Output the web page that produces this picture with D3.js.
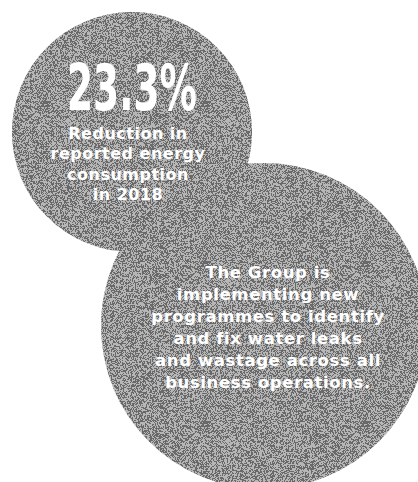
<!DOCTYPE html>
<html>
<head>
<meta charset="utf-8">
<script src="https://cdn.jsdelivr.net/npm/d3@7"></script>
<style>
  body { margin: 0; background: #fff; }
</style>
</head>
<body>
<div id="chart"></div>
<script>
// values
var statValue = 23.3;
var statLines = ["Reduction in", "reported energy", "consumption", "in 2018"];
var noteLines = ["The Group is", "implementing new", "programmes to identify",
                 "and fix water leaks", "and wastage across all", "business operations."];

var width = 418, height = 482;

var svg = d3.select("#chart").append("svg")
  .attr("width", width)
  .attr("height", height);

// circles: big one, small one
var circles = [
  {cx: 264, cy: 326, r: 163},
  {cx: 132, cy: 132, r: 120}
];

var defs = svg.append("defs");

// union of both circles, used to clip the grain
defs.append("clipPath")
  .attr("id", "blobs")
  .selectAll("circle")
  .data(circles)
  .enter()
  .append("circle")
  .attr("cx", d => d.cx)
  .attr("cy", d => d.cy)
  .attr("r", d => d.r);

// grainy halftone look
var grain = defs.append("filter")
  .attr("id", "grain")
  .attr("x", 0).attr("y", 0).attr("width", 1).attr("height", 1);
grain.append("feTurbulence")
  .attr("type", "fractalNoise")
  .attr("baseFrequency", 1.6)
  .attr("numOctaves", 1)
  .attr("seed", 4)
  .attr("result", "noise");
grain.append("feColorMatrix")
  .attr("in", "noise")
  .attr("type", "matrix")
  .attr("values", "1 0 0 0 0  1 0 0 0 0  1 0 0 0 0  0 0 0 0 1")
  .attr("result", "gray");
var ct = grain.append("feComponentTransfer").attr("in", "gray");
ct.append("feFuncR").attr("type", "discrete").attr("tableValues", "0 1");
ct.append("feFuncG").attr("type", "discrete").attr("tableValues", "0 1");
ct.append("feFuncB").attr("type", "discrete").attr("tableValues", "0 1");

svg.selectAll("circle.base")
  .data(circles)
  .enter()
  .append("circle")
  .attr("class", "base")
  .attr("cx", d => d.cx)
  .attr("cy", d => d.cy)
  .attr("r", d => d.r)
  .style("fill", "#979797");

svg.append("g")
  .attr("clip-path", "url(#blobs)")
  .append("rect")
  .attr("width", width)
  .attr("height", height)
  .attr("filter", "url(#grain)")
  .style("opacity", 0.3);

var fmt = d3.format(".1f");

// big number
svg.append("text")
  .attr("x", 132)
  .attr("y", 110)
  .attr("text-anchor", "middle")
  .attr("textLength", 130)
  .attr("lengthAdjust", "spacingAndGlyphs")
  .style("font-family", "'Liberation Sans Narrow', 'DejaVu Sans Condensed', sans-serif")
  .style("font-weight", "bold")
  .style("font-size", "64px")
  .style("fill", "#fff")
  .text(fmt(statValue) + "%");

svg.append("g")
  .selectAll("text")
  .data(statLines)
  .enter()
  .append("text")
  .attr("x", 128)
  .attr("y", (d, i) => 139 + i * 20.3)
  .attr("text-anchor", "middle")
  .style("font-family", "'DejaVu Sans', sans-serif")
  .style("font-weight", "bold")
  .style("font-size", "16px")
  .style("letter-spacing", "0.5px")
  .style("fill", "#fff")
  .text(d => d);

svg.append("g")
  .selectAll("text")
  .data(noteLines)
  .enter()
  .append("text")
  .attr("x", 268)
  .attr("y", (d, i) => 278 + i * 22)
  .attr("text-anchor", "middle")
  .style("font-family", "'DejaVu Sans', sans-serif")
  .style("font-weight", "bold")
  .style("font-size", "16.5px")
  .style("letter-spacing", "0.6px")
  .style("fill", "#fff")
  .text(d => d);
</script>
</body>
</html>
